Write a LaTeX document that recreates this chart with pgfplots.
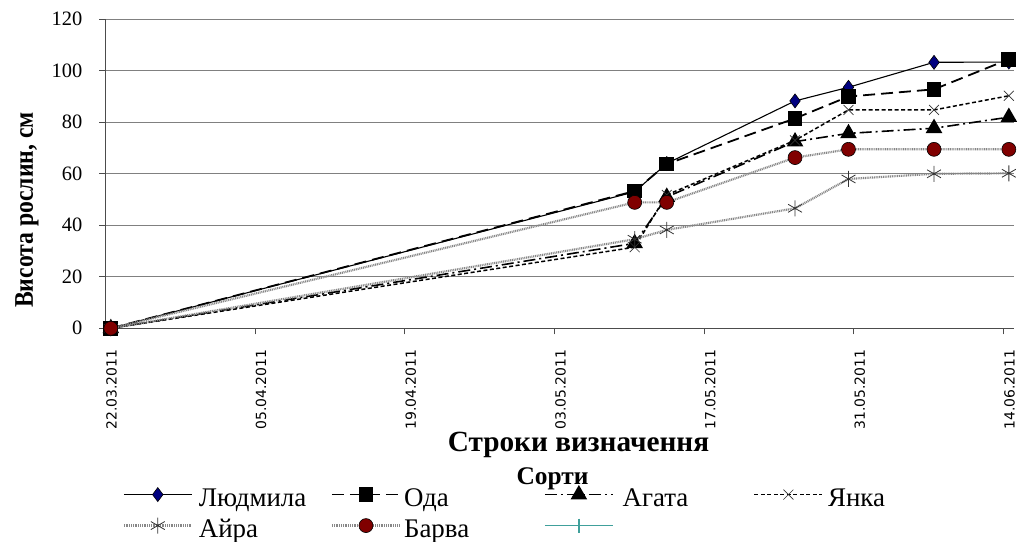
\documentclass[border=0pt]{standalone}
\usepackage{fontspec}
\setmainfont{Liberation Serif}
\newfontfamily\tickfont{DejaVu Sans}
\newfontfamily\ylabfont[FakeStretch=0.88]{Liberation Serif Bold}
\usepackage{pgfplots}
\pgfplotsset{compat=1.18}
\definecolor{gridgray}{RGB}{128,128,128}
\definecolor{navyc}{RGB}{0,0,128}
\definecolor{darkredc}{RGB}{128,0,0}
\definecolor{tealc}{RGB}{64,160,155}
\definecolor{dotgray}{RGB}{135,135,135}
\newcommand{\lstrut}{\rule[-4.5bp]{0pt}{30bp}}
\begin{document}
\begin{tikzpicture}
\path[use as bounding box] (-105.5bp,-213.7bp) rectangle (911.5bp,328.3bp);
\begin{axis}[
 at={(0,0)}, anchor=south west,
 scale only axis, width=908.7bp, height=309bp,
 xmin=0, xmax=85, ymin=0, ymax=120,
 axis x line*=bottom, axis y line*=left,
 axis line style={draw=black!70, line width=1.2bp, -},
 xtick={0,14,28,42,56,70,84},
 xticklabels={22.03.2011,05.04.2011,19.04.2011,03.05.2011,17.05.2011,31.05.2011,14.06.2011},
 ytick={0,20,...,120},
 ymajorgrids, major grid style={draw=gridgray, line width=1.3bp},
 tick align=outside, major tick length=6bp,
 tick style={draw=black!70, line width=1bp},
 xticklabel style={font=\tickfont\fontsize{14}{14}\selectfont, xshift=6bp, rotate=90, anchor=east, inner sep=0pt},
 xticklabel shift=15bp,
 yticklabel style={font=\fontsize{20.5}{20.5}\selectfont, anchor=east, inner sep=0pt},
 yticklabel shift=17bp,
 /pgf/number format/assume math mode=true,
 clip=false,
 legend columns=4,
 legend style={draw=none, fill=none, inner sep=0pt, outer sep=0pt,
   at={(axis description cs:0.01893,-0.488)}, anchor=north west,
   font=\fontsize{27}{27}\selectfont,
   /tikz/every even column/.append style={column sep=0bp},
   /tikz/every odd column/.append style={column sep=0bp},
   row sep=0bp},
 legend cell align=left,
 legend image code/.code={\draw[mark repeat=2,mark phase=2,#1] plot coordinates {(0bp,0bp)(34bp,0bp)(68bp,0bp)};},
]
\addplot[black, line width=1.1bp, mark=diamond*, mark size=7bp, mark options={fill=navyc, draw=black, line width=0.6bp, solid}]
 coordinates {(0.5,0)(49.5,53)(52.5,64)(64.5,88.3)(69.5,93.6)(77.5,103.3)(84.5,103.4)};
\addlegendentry{\makebox[134bp][l]{\hspace{4bp}Людмила\lstrut}}
\addplot[black, line width=1.8bp, dash pattern=on 12bp off 6bp, mark=square*, mark size=6.5bp, mark options={fill=black, solid}]
 coordinates {(0.5,0)(49.5,53.3)(52.5,63.8)(64.5,81.5)(69.5,90)(77.5,92.8)(84.5,104.5)};
\addlegendentry{\makebox[139bp][l]{\hspace{1bp}Ода\lstrut}}
\addplot[black, line width=1.6bp, dash pattern=on 12bp off 4bp on 2bp off 4bp, mark=triangle*, mark size=8bp, mark options={solid, fill=black}]
 coordinates {(0.5,0)(49.5,33)(52.5,51)(64.5,72.5)(69.5,75.7)(77.5,77.7)(84.5,82)};
\addlegendentry{\makebox[136bp][l]{\hspace{7bp}Агата\lstrut}}
\addplot[black, line width=1.5bp, dash pattern=on 4bp off 2.5bp, mark=x, mark size=7bp, mark options={solid, line width=0.7bp, draw=black!80}]
 coordinates {(0.5,0)(49.5,31.5)(52.5,51.8)(64.5,73)(69.5,84.8)(77.5,84.8)(84.5,90.3)};
\addlegendentry{\makebox[80bp][l]{\hspace{3bp}Янка\lstrut}}
\addplot[dotgray, line width=2.2bp, dash pattern=on 1bp off 0.8bp, mark=asterisk, mark size=8bp, mark options={solid, draw=black!80, line width=0.8bp}]
 coordinates {(0.5,0)(49.5,34.6)(52.5,38.2)(64.5,46.6)(69.5,58)(77.5,60)(84.5,60.2)};
\addlegendentry{\makebox[134bp][l]{\hspace{4bp}Айра\lstrut}}
\addplot[dotgray, line width=2.2bp, dash pattern=on 1bp off 0.8bp, mark=*, mark size=7bp, mark options={solid, fill=darkredc, draw=black, line width=0.6bp}]
 coordinates {(0.5,0)(49.5,48.9)(52.5,48.9)(64.5,66.3)(69.5,69.5)(77.5,69.5)(84.5,69.5)};
\addlegendentry{\makebox[139bp][l]{\hspace{1bp}Барва\lstrut}}
\addlegendimage{tealc, line width=1.5bp, mark=+, mark size=7bp, mark options={solid}}
\addlegendentry{\makebox[136bp][l]{\lstrut}}
\end{axis}
\node[font=\bfseries\fontsize{29.4}{29.4}\selectfont, anchor=base, inner sep=0pt] at (473bp,-123.4bp) {Строки визначення};
\node[font=\bfseries\fontsize{25.5}{25.5}\selectfont, anchor=base, inner sep=0pt] at (447bp,-155.7bp) {Сорти};
\node[font=\ylabfont\fontsize{27}{27}\selectfont, rotate=90, anchor=base, inner sep=0pt] at (-72.5bp,118.3bp) {Висота рослин, см};
\end{tikzpicture}
\end{document}
